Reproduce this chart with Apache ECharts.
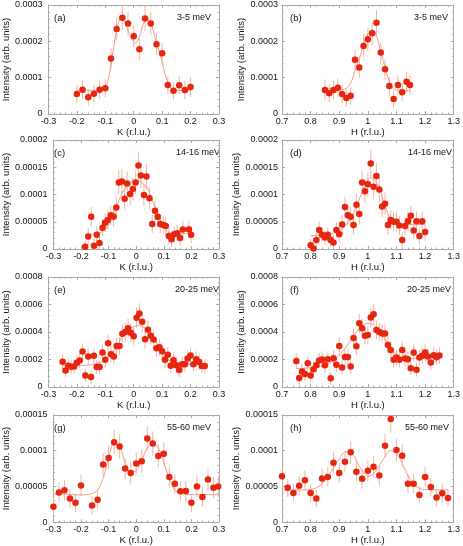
<!DOCTYPE html>
<html>
<head>
<meta charset="utf-8">
<script src="https://cdn.jsdelivr.net/npm/echarts@6/dist/echarts.min.js"></script>
<style>
  html, body { margin: 0; padding: 0; background: #fff; }
  #chart { width: 463px; height: 546px; }
</style>
</head>
<body>
<div id="chart"></div>
<script>
// (a) 3-5 meV, K scan
const aK = [-0.2,-0.18,-0.16,-0.14,-0.12,-0.1,-0.08,-0.06,-0.04,-0.02,0,0.02,0.04,0.06,0.08,0.1,0.12,0.14,0.16,0.18,0.2]
const aI = [5.5e-5,6.7e-5,4.6e-5,5.6e-5,6.7e-5,7.1e-5,1.53e-4,2.34e-4,2.65e-4,2.49e-4,2.14e-4,1.78e-4,2.63e-4,2.49e-4,1.92e-4,1.67e-4,8.0e-5,6.4e-5,7.9e-5,6.6e-5,7.4e-5]
const aErr = [2.5e-5,2.5e-5,2.3e-5,2.3e-5,2.5e-5,2.5e-5,2.8e-5,3.2e-5,3.4e-5,3.2e-5,3.0e-5,2.9e-5,3.4e-5,3.2e-5,3.0e-5,2.8e-5,2.5e-5,2.3e-5,2.5e-5,2.5e-5,2.7e-5]
const aFitK = [-0.2,-0.15,-0.12,-0.1,-0.09,-0.08,-0.07,-0.06,-0.045,-0.03,-0.015,0.005,0.02,0.035,0.05,0.065,0.08,0.1,0.11,0.12,0.13,0.15,0.2]
const aFitI = [6.5e-5,6.5e-5,6.7e-5,7.5e-5,9.5e-5,1.35e-4,1.85e-4,2.3e-4,2.63e-4,2.5e-4,2.2e-4,1.95e-4,2.12e-4,2.5e-4,2.62e-4,2.4e-4,1.95e-4,1.45e-4,1.1e-4,8.8e-5,7.2e-5,6.5e-5,6.5e-5]

// (b) 3-5 meV, H scan
const bH = [0.85,0.865,0.88,0.895,0.91,0.925,0.94,0.955,0.97,0.985,1.0,1.015,1.03,1.045,1.06,1.075,1.09,1.105,1.12,1.135,1.147]
const bI = [6.6e-5,5.7e-5,6.6e-5,7.2e-5,5.5e-5,4.4e-5,5.0e-5,1.49e-4,1.28e-4,1.87e-4,2.06e-4,2.22e-4,2.51e-4,1.69e-4,1.23e-4,7.7e-5,4.1e-5,8.0e-5,6.0e-5,8.9e-5,8.0e-5]
const bErr = [2.8e-5,2.5e-5,2.5e-5,2.6e-5,2.5e-5,2.4e-5,2.5e-5,3.0e-5,3.0e-5,3.2e-5,3.2e-5,3.3e-5,3.5e-5,3.0e-5,2.8e-5,2.6e-5,2.4e-5,2.6e-5,2.5e-5,2.8e-5,2.7e-5]
const bFitH = [0.85,0.88,0.91,0.925,0.94,0.955,0.97,0.985,1.0,1.015,1.03,1.045,1.06,1.075,1.09,1.11,1.15]
const bFitI = [7.0e-5,6.9e-5,6.7e-5,7.1e-5,8.5e-5,1.2e-4,1.5e-4,1.9e-4,2.2e-4,2.32e-4,2.15e-4,1.7e-4,1.27e-4,9.0e-5,7.1e-5,6.4e-5,6.4e-5]

// (c) 14-16 meV, K scan
const cK = [-0.185,-0.174,-0.163,-0.153,-0.143,-0.133,-0.122,-0.113,-0.103,-0.092,-0.082,-0.072,-0.063,-0.052,-0.042,-0.033,-0.022,-0.012,-0.002,0.008,0.017,0.028,0.037,0.048,0.058,0.068,0.078,0.087,0.098,0.107,0.118,0.128,0.138,0.148,0.159,0.169,0.191,0.199]
const cI = [4e-6,2.3e-5,5.9e-5,6e-6,2.6e-5,1.1e-5,3.9e-5,4.8e-5,5.3e-5,6.2e-5,5.9e-5,7.6e-5,1.22e-4,1.24e-4,9.2e-5,1.2e-4,1.01e-4,1.1e-4,1.22e-4,1.53e-4,1.35e-4,9.9e-5,1.33e-4,9.3e-5,4.6e-5,7.0e-5,5.9e-5,4.6e-5,4.4e-5,4.2e-5,2.4e-5,1.8e-5,2.7e-5,2.9e-5,2.0e-5,3.6e-5,3.6e-5,2.6e-5]
const cErr = [1.2e-5,1.5e-5,1.8e-5,1.2e-5,1.5e-5,1.3e-5,1.6e-5,1.7e-5,1.7e-5,1.8e-5,1.8e-5,1.9e-5,2.2e-5,2.2e-5,2.0e-5,2.2e-5,2.1e-5,2.1e-5,2.2e-5,2.6e-5,2.3e-5,2.0e-5,2.3e-5,2.0e-5,1.7e-5,1.9e-5,1.8e-5,1.7e-5,1.7e-5,1.7e-5,1.5e-5,1.4e-5,1.5e-5,1.5e-5,1.4e-5,1.6e-5,1.6e-5,1.5e-5]
const cFitK = [-0.18,-0.15,-0.13,-0.115,-0.1,-0.08,-0.06,-0.04,-0.02,0,0.02,0.04,0.06,0.08,0.1,0.12,0.14,0.2]
const cFitI = [2.7e-5,2.7e-5,3.0e-5,3.5e-5,4.5e-5,6.5e-5,9.2e-5,1.12e-4,1.22e-4,1.25e-4,1.22e-4,1.12e-4,8.8e-5,6.2e-5,4.1e-5,3.0e-5,2.8e-5,2.8e-5]

// (d) 14-16 meV, H scan
const dH = [0.8,0.81,0.82,0.83,0.84,0.85,0.86,0.87,0.88,0.89,0.9,0.91,0.92,0.93,0.94,0.95,0.96,0.97,0.98,0.99,1.0,1.01,1.02,1.03,1.04,1.05,1.06,1.07,1.08,1.09,1.1,1.11,1.12,1.13,1.14,1.15,1.16,1.17,1.18,1.19,1.2]
const dI = [7e-6,1e-6,1.65e-5,3.5e-5,2.6e-5,2.1e-5,2.6e-5,1.65e-5,1.2e-5,3.5e-5,2.7e-5,4.5e-5,7.7e-5,6.2e-5,5.9e-5,4.4e-5,8.1e-5,6.4e-5,1.22e-4,1.06e-4,1.19e-4,1.57e-4,1.14e-4,1.34e-4,1.09e-4,7.8e-5,8.3e-5,4.4e-5,5.3e-5,5.0e-5,5.0e-5,4.3e-5,1.65e-5,4.2e-5,5.1e-5,6.1e-5,3.4e-5,5.1e-5,2.4e-5,5.1e-5,3.1e-5]
const dErr = [1.2e-5,1.0e-5,1.3e-5,1.5e-5,1.3e-5,1.3e-5,1.3e-5,1.2e-5,1.2e-5,1.5e-5,1.5e-5,1.7e-5,1.9e-5,1.8e-5,1.8e-5,1.7e-5,2.0e-5,1.9e-5,2.2e-5,2.1e-5,2.2e-5,2.6e-5,2.2e-5,2.4e-5,2.2e-5,2.0e-5,2.0e-5,1.8e-5,1.8e-5,1.8e-5,1.8e-5,1.7e-5,1.5e-5,1.7e-5,1.8e-5,1.8e-5,1.6e-5,1.8e-5,1.5e-5,1.8e-5,1.6e-5]
const dFitH = [0.8,0.84,0.88,0.9,0.92,0.94,0.96,0.98,1.0,1.01,1.02,1.04,1.06,1.08,1.1,1.13,1.2]
const dFitI = [2.4e-5,2.6e-5,2.9e-5,3.3e-5,4.2e-5,5.6e-5,7.8e-5,1.05e-4,1.26e-4,1.31e-4,1.29e-4,1.11e-4,8.0e-5,5.4e-5,4.6e-5,4.5e-5,4.5e-5]

// (e) 20-25 meV, K scan
const eK = [-0.25,-0.24,-0.23,-0.22,-0.21,-0.2,-0.19,-0.18,-0.17,-0.16,-0.15,-0.14,-0.13,-0.12,-0.11,-0.1,-0.09,-0.08,-0.07,-0.06,-0.05,-0.04,-0.03,-0.02,-0.01,0,0.01,0.02,0.03,0.04,0.05,0.06,0.07,0.08,0.09,0.1,0.11,0.12,0.13,0.14,0.15,0.16,0.17,0.18,0.19,0.2,0.21,0.22,0.23,0.24,0.25]
const eI = [1.83e-4,1.2e-4,1.54e-4,1.47e-4,1.49e-4,1.76e-4,1.93e-4,2.58e-4,8.4e-5,2.22e-4,7.2e-5,2.27e-4,1.45e-4,1.45e-4,2.51e-4,1.98e-4,3.18e-4,2.39e-4,2.22e-4,2.99e-4,2.99e-4,3.88e-4,4.0e-4,4.27e-4,3.95e-4,3.69e-4,5.04e-4,5.35e-4,4.75e-4,3.47e-4,4.17e-4,3.73e-4,3.45e-4,2.82e-4,2.89e-4,2.6e-4,1.98e-4,2.34e-4,1.54e-4,1.95e-4,1.59e-4,1.23e-4,1.66e-4,1.66e-4,2.07e-4,2.29e-4,1.66e-4,2.02e-4,1.81e-4,1.52e-4,1.52e-4]
const eErr = [5.3e-5,5.0e-5,5.2e-5,5.2e-5,5.2e-5,5.4e-5,5.5e-5,6.0e-5,4.8e-5,5.8e-5,4.7e-5,5.8e-5,5.2e-5,5.2e-5,6.0e-5,5.6e-5,6.5e-5,6.0e-5,5.8e-5,6.3e-5,6.3e-5,6.8e-5,6.9e-5,7.0e-5,6.8e-5,6.7e-5,7.3e-5,7.4e-5,7.1e-5,6.6e-5,6.9e-5,6.7e-5,6.5e-5,6.2e-5,6.2e-5,6.0e-5,5.6e-5,5.9e-5,5.2e-5,5.6e-5,5.3e-5,5.0e-5,5.4e-5,5.4e-5,5.7e-5,5.9e-5,5.4e-5,5.7e-5,5.5e-5,5.2e-5,5.2e-5]
const eFitK = [-0.25,-0.2,-0.15,-0.12,-0.1,-0.08,-0.06,-0.05,-0.04,-0.02,0,0.015,0.03,0.05,0.07,0.09,0.1,0.12,0.15,0.18,0.25]
const eFitI = [1.55e-4,1.56e-4,1.62e-4,1.78e-4,1.95e-4,2.35e-4,2.9e-4,3.3e-4,3.65e-4,4.15e-4,4.4e-4,4.48e-4,4.4e-4,4.1e-4,3.5e-4,2.85e-4,2.5e-4,2.0e-4,1.73e-4,1.66e-4,1.65e-4]

// (f) 20-25 meV, H scan
const fH = [0.75,0.76,0.77,0.78,0.79,0.8,0.81,0.82,0.83,0.84,0.85,0.86,0.87,0.88,0.89,0.9,0.91,0.92,0.93,0.94,0.95,0.96,0.97,0.98,0.99,1.0,1.01,1.02,1.03,1.04,1.05,1.06,1.07,1.08,1.09,1.1,1.11,1.12,1.13,1.14,1.15,1.16,1.17,1.18,1.19,1.2,1.21,1.22,1.23,1.24,1.25]
const fI = [1.9e-4,6.5e-5,1.13e-4,9.4e-5,1.73e-4,8.4e-5,1.3e-4,1.59e-4,1.93e-4,2.0e-4,1.59e-4,2.02e-4,6.3e-5,2.1e-4,1.61e-4,2.99e-4,1.42e-4,2.19e-4,2.19e-4,1.49e-4,3.57e-4,2.96e-4,4.63e-4,4.27e-4,3.73e-4,3.78e-4,5.06e-4,5.3e-4,4.14e-4,4.0e-4,3.9e-4,3.9e-4,3.06e-4,2.7e-4,1.98e-4,2.14e-4,1.98e-4,2.7e-4,2.07e-4,2.02e-4,1.37e-4,2.51e-4,1.25e-4,2.14e-4,2.27e-4,2.51e-4,2.22e-4,1.78e-4,2.31e-4,2.17e-4,2.29e-4]
const fErr = [5.6e-5,4.8e-5,5.1e-5,5.0e-5,5.4e-5,4.9e-5,5.2e-5,5.4e-5,5.6e-5,5.7e-5,5.4e-5,5.7e-5,4.8e-5,5.8e-5,5.4e-5,6.3e-5,5.2e-5,5.9e-5,5.9e-5,5.3e-5,6.6e-5,6.3e-5,7.1e-5,6.9e-5,6.6e-5,6.6e-5,7.3e-5,7.4e-5,6.8e-5,6.7e-5,6.6e-5,6.6e-5,6.3e-5,6.0e-5,5.6e-5,5.8e-5,5.6e-5,6.0e-5,5.7e-5,5.7e-5,5.1e-5,6.0e-5,5.0e-5,5.8e-5,5.9e-5,6.0e-5,5.9e-5,5.5e-5,5.9e-5,5.8e-5,5.9e-5]
const fFitH = [0.75,0.8,0.85,0.88,0.9,0.92,0.94,0.96,0.98,1.0,1.02,1.04,1.06,1.08,1.1,1.12,1.15,1.2,1.25]
const fFitI = [1.35e-4,1.4e-4,1.6e-4,1.9e-4,2.3e-4,2.8e-4,3.4e-4,4.0e-4,4.45e-4,4.63e-4,4.5e-4,4.1e-4,3.5e-4,2.85e-4,2.35e-4,2.15e-4,2.08e-4,2.1e-4,2.17e-4]

// (g) 55-60 meV, K scan
const gK = [-0.3,-0.28,-0.26,-0.24,-0.22,-0.2,-0.16,-0.14,-0.12,-0.1,-0.08,-0.06,-0.04,-0.02,0,0.02,0.04,0.06,0.08,0.1,0.12,0.14,0.16,0.18,0.2,0.22,0.24,0.26,0.28,0.297]
const gI = [2.16e-5,4.13e-5,4.45e-5,3.3e-5,2.7e-5,5.14e-5,2.34e-5,3.12e-5,8.07e-5,8.99e-5,1.12e-4,1.06e-4,7.52e-5,6.88e-5,8.21e-5,8.53e-5,1.17e-4,1.1e-4,9.27e-5,9.59e-5,6.33e-5,5.37e-5,4.31e-5,4.36e-5,2.7e-5,5.0e-5,3.53e-5,5.96e-5,4.82e-5,5.0e-5]
const gErr = [1.2e-5,1.4e-5,1.4e-5,1.3e-5,1.3e-5,1.5e-5,1.3e-5,1.3e-5,1.6e-5,1.6e-5,1.7e-5,1.7e-5,1.5e-5,1.5e-5,1.6e-5,1.6e-5,1.7e-5,1.7e-5,1.6e-5,1.6e-5,1.5e-5,1.4e-5,1.4e-5,1.4e-5,1.3e-5,1.5e-5,1.4e-5,1.5e-5,1.5e-5,1.5e-5]
const gFitK = [-0.3,-0.25,-0.2,-0.16,-0.14,-0.12,-0.1,-0.08,-0.06,-0.04,-0.02,0,0.02,0.04,0.06,0.08,0.1,0.12,0.14,0.16,0.2,0.3]
const gFitI = [4.0e-5,3.9e-5,3.8e-5,4.0e-5,4.5e-5,6.1e-5,9.0e-5,1.1e-4,1.06e-4,8.3e-5,7.0e-5,7.2e-5,8.6e-5,1.04e-4,1.1e-4,1.04e-4,8.3e-5,6.1e-5,4.5e-5,4.0e-5,3.85e-5,3.85e-5]

// (h) 55-60 meV, H scan
const hH = [0.7,0.72,0.74,0.76,0.78,0.8,0.82,0.84,0.86,0.88,0.9,0.92,0.94,0.96,0.98,1.0,1.02,1.04,1.06,1.08,1.1,1.12,1.14,1.16,1.18,1.2,1.22,1.24,1.26,1.28]
const hI = [6.42e-5,4.82e-5,4.08e-5,5.09e-5,5.87e-5,4.08e-5,3.3e-5,6.1e-5,6.33e-5,8.3e-5,6.88e-5,8.44e-5,9.77e-5,7.06e-5,6.06e-5,7.2e-5,7.75e-5,6.51e-5,1.07e-4,1.445e-4,1.01e-4,9.31e-5,5.37e-5,5.37e-5,3.81e-5,6.33e-5,4.91e-5,3.44e-5,4.04e-5,3.39e-5]
const hErr = [1.4e-5,1.3e-5,1.2e-5,1.3e-5,1.4e-5,1.2e-5,1.2e-5,1.4e-5,1.4e-5,1.5e-5,1.4e-5,1.5e-5,1.6e-5,1.4e-5,1.4e-5,1.5e-5,1.5e-5,1.4e-5,1.7e-5,1.9e-5,1.6e-5,1.6e-5,1.3e-5,1.3e-5,1.2e-5,1.4e-5,1.3e-5,1.2e-5,1.3e-5,1.2e-5]
const hFitH = [0.7,0.78,0.82,0.85,0.88,0.9,0.925,0.95,0.97,0.99,1.0,1.02,1.04,1.06,1.08,1.1,1.12,1.14,1.16,1.19,1.28]
const hFitI = [4.5e-5,4.5e-5,4.8e-5,5.8e-5,7.6e-5,8.9e-5,9.9e-5,9.3e-5,7.8e-5,6.7e-5,6.4e-5,6.8e-5,7.9e-5,9.2e-5,1.0e-4,9.6e-5,8.2e-5,6.5e-5,5.3e-5,4.6e-5,4.5e-5]

const panelTags = ['(a)','(b)','(c)','(d)','(e)','(f)','(g)','(h)']
const energies = ['3-5 meV','3-5 meV','14-16 meV','14-16 meV','20-25 meV','20-25 meV','55-60 meV','55-60 meV']
const yMaxes = [0.0003,0.0003,0.0002,0.0002,0.0008,0.0008,0.00015,0.00015]
const ySteps = [0.0001,0.0001,0.00005,0.00005,0.0002,0.0002,0.00005,0.00005]

const panels = [
  [aK, aI, aErr, aFitK, aFitI],
  [bH, bI, bErr, bFitH, bFitI],
  [cK, cI, cErr, cFitK, cFitI],
  [dH, dI, dErr, dFitH, dFitI],
  [eK, eI, eErr, eFitK, eFitI],
  [fH, fI, fErr, fFitH, fFitI],
  [gK, gI, gErr, gFitK, gFitI],
  [hH, hI, hErr, hFitH, hFitI]
]

// layout (pixels)
const colLeft = [47, 282]
const colWidth = [172, 177]
const rowTop = [5, 140, 277, 415]
const rowHeight = [109, 109, 110, 109]
const tagX = [54, 290]
const energyX = [[177, 414], [176, 408], [175, 407], [167, 405]]

const frame = '#a8a8a8'
const dotColor = '#e8250e'
const errColor = '#f6b2a2'
const fitColor = '#f39c8c'
const font = 'Liberation Sans'

const myChart = echarts.init(document.getElementById('chart'), null, { renderer: 'canvas' })

const fmt = v => v === 0 ? '0' : String(+v.toPrecision(6))

let grids = [], xAxes = [], yAxes = [], series = [], texts = []

panels.forEach((p, i) => {
  const col = i % 2, row = Math.floor(i / 2)
  const isK = col === 0
  grids.push({ left: colLeft[col], top: rowTop[row], width: colWidth[col], height: rowHeight[row] })

  const xBase = {
    gridIndex: i, type: 'value',
    min: isK ? -0.3 : 0.7, max: isK ? 0.3 : 1.3, interval: 0.1,
    axisLine: { show: true, onZero: false, lineStyle: { color: frame, width: 1 } },
    axisTick: { show: true, inside: true, length: 3, lineStyle: { color: frame } },
    minorTick: { show: true, splitNumber: 5, length: 1.5, lineStyle: { color: frame } },
    splitLine: { show: false }
  }
  xAxes.push(Object.assign({}, xBase, {
    position: 'bottom',
    axisLabel: { fontSize: 9, color: '#111', margin: 3, fontFamily: font, formatter: fmt },
    name: isK ? 'K (r.l.u.)' : 'H (r.l.u.)',
    nameLocation: 'middle', nameGap: 12,
    nameTextStyle: { fontSize: 9.5, color: '#111', fontFamily: font }
  }))
  xAxes.push(Object.assign({}, xBase, { position: 'top', axisLabel: { show: false } }))

  const yBase = {
    gridIndex: i, type: 'value', min: 0, max: yMaxes[i], interval: ySteps[i],
    axisLine: { show: true, onZero: false, lineStyle: { color: frame, width: 1 } },
    axisTick: { show: true, inside: true, length: 3, lineStyle: { color: frame } },
    minorTick: { show: true, splitNumber: 5, length: 1.5, lineStyle: { color: frame } },
    splitLine: { show: false }
  }
  yAxes.push(Object.assign({}, yBase, {
    position: 'left',
    axisLabel: { fontSize: 9, color: '#111', margin: isK ? 6 : 4, fontFamily: font, formatter: fmt },
    name: 'Intensity (arb. units)',
    nameLocation: 'middle', nameGap: isK ? 37 : 35,
    nameTextStyle: { fontSize: 9.5, color: '#111', fontFamily: font }
  }))
  yAxes.push(Object.assign({}, yBase, { position: 'right', axisLabel: { show: false } }))

  const [xs, ys, es, fx, fy] = p
  series.push({
    type: 'custom', xAxisIndex: 2 * i, yAxisIndex: 2 * i, clip: true, z: 1,
    encode: { x: 0, y: [1, 2] },
    data: xs.map((x, j) => [x, ys[j] - es[j], ys[j] + es[j]]),
    renderItem: (params, api) => {
      const lo = api.coord([api.value(0), api.value(1)])
      const hi = api.coord([api.value(0), api.value(2)])
      return {
        type: 'line',
        shape: { x1: lo[0], y1: lo[1], x2: hi[0], y2: hi[1] },
        style: { stroke: errColor, lineWidth: 1 }
      }
    },
    silent: true
  })
  series.push({
    type: 'line', xAxisIndex: 2 * i, yAxisIndex: 2 * i, z: 2,
    data: fx.map((x, j) => [x, fy[j]]),
    smooth: 0.35, showSymbol: false, silent: true,
    lineStyle: { color: fitColor, width: 1 }
  })
  series.push({
    type: 'scatter', xAxisIndex: 2 * i, yAxisIndex: 2 * i, z: 3,
    data: xs.map((x, j) => [x, ys[j]]),
    symbolSize: 6.5, itemStyle: { color: dotColor, opacity: 1 }, silent: true
  })

  const ty = rowTop[row] + 13
  texts.push({ type: 'text', x: tagX[col], y: ty, style: { text: panelTags[i], fontSize: 9.5, fontFamily: font, fill: '#111', align: 'left', verticalAlign: 'middle' } })
  texts.push({ type: 'text', x: energyX[row][col], y: ty, style: { text: energies[i], fontSize: 9, fontFamily: font, fill: '#111', align: 'left', verticalAlign: 'middle' } })
})

const option = {
  animation: false,
  backgroundColor: '#fff',
  textStyle: { fontFamily: font },
  grid: grids,
  xAxis: xAxes,
  yAxis: yAxes,
  series: series,
  graphic: texts
}

option && myChart.setOption(option)
</script>
</body>
</html>
